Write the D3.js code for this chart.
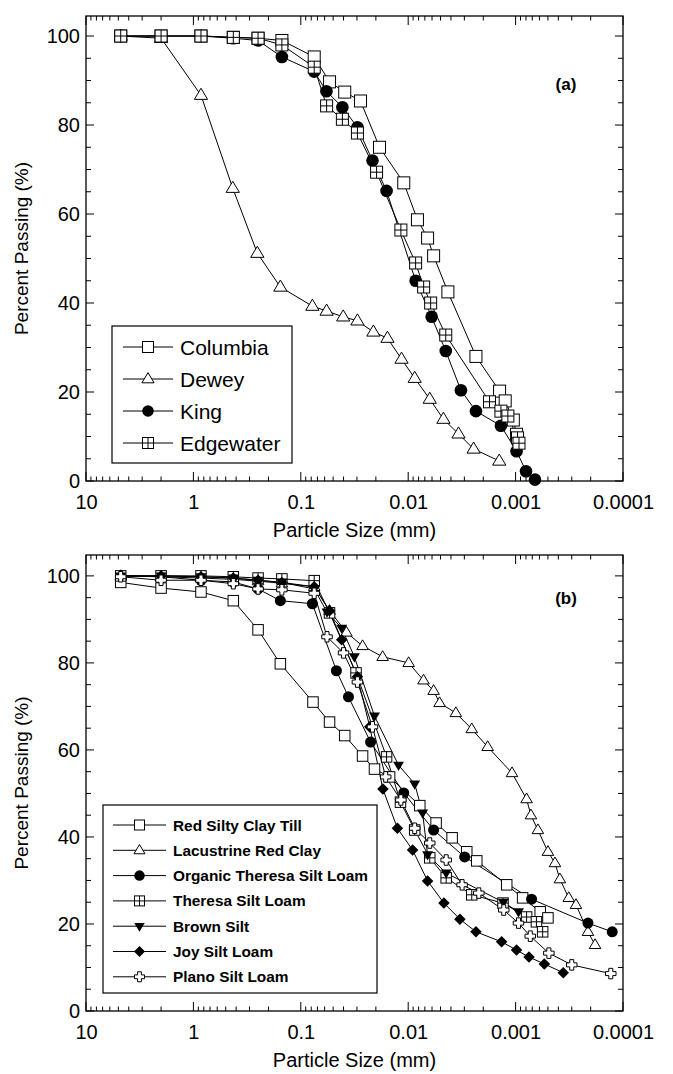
<!DOCTYPE html>
<html><head><meta charset="utf-8">
<script src="https://cdn.jsdelivr.net/npm/d3@7"></script>
<style>html,body{margin:0;padding:0;background:#fff;}svg{display:block;font-family:"Liberation Sans",Arial,sans-serif;}</style>
</head><body>
<svg id="chart" width="673" height="1074"></svg>
<script>
// ---------- Panel (a) data ----------
const columbiaSize = [4.75, 2, 0.85, 0.425, 0.25, 0.15, 0.075, 0.054, 0.039, 0.0278, 0.0185, 0.011, 0.0082, 0.0066, 0.0058, 0.00427, 0.00234, 0.00141, 0.00125, 0.00105, 0.00098];
const columbiaPass = [100, 100, 100, 99.7, 99.5, 99, 95.3, 89.7, 87.4, 85.4, 75, 67, 58.7, 54.6, 50.6, 42.5, 28, 20.2, 18, 13.7, 10.5];
const deweySize = [4.75, 2, 0.85, 0.43, 0.254, 0.155, 0.078, 0.0575, 0.0403, 0.0297, 0.0211, 0.0156, 0.01154, 0.0087, 0.0063, 0.0047, 0.0034, 0.00246, 0.00142];
const deweyPass = [100, 99.5, 86.7, 65.8, 51.2, 43.6, 39.3, 38.2, 36.9, 36, 33.5, 32.1, 27.4, 23.1, 18.4, 13.9, 10.6, 7.2, 4.5];
const kingSize = [4.75, 2, 0.85, 0.425, 0.25, 0.15, 0.075, 0.0577, 0.041, 0.0297, 0.0215, 0.0159, 0.00853, 0.00605, 0.00447, 0.00323, 0.00234, 0.00137, 0.00098, 0.0008, 0.00066];
const kingPass = [100, 100, 100, 99.5, 99, 95.3, 92, 87.6, 84, 79.5, 72, 65.2, 45, 36.9, 29.2, 20.4, 15.7, 12.4, 6.7, 2.2, 0.3];
const edgewaterSize = [4.75, 2, 0.85, 0.425, 0.25, 0.15, 0.075, 0.0575, 0.041, 0.0297, 0.0197, 0.0117, 0.00853, 0.00718, 0.00618, 0.00447, 0.00175, 0.00137, 0.00118, 0.00096, 0.00093];
const edgewaterPass = [100, 100, 100, 99.7, 99.5, 98, 93, 84.3, 81.3, 78.2, 69.4, 56.4, 49, 43.6, 40, 32.8, 17.8, 15.7, 14.6, 9.7, 8.5];
const namesA = ["Columbia", "Dewey", "King", "Edgewater"];

// ---------- Panel (b) data ----------
const redTillSize = [4.75, 2, 0.85, 0.425, 0.25, 0.155, 0.077, 0.054, 0.039, 0.0266, 0.0206, 0.0149, 0.0078, 0.0055, 0.0039, 0.00285, 0.0023, 0.00121, 0.00086, 0.00059, 0.0005];
const redTillPass = [98.5, 97.2, 96.3, 94.3, 87.6, 79.8, 71, 66.4, 63.3, 58.6, 55.6, 53.8, 47.2, 43.2, 39.8, 36.6, 34.5, 29, 26, 22.8, 21.4];
const lacustrineSize = [4.75, 2, 0.85, 0.425, 0.25, 0.15, 0.075, 0.054, 0.0376, 0.0266, 0.0173, 0.0099, 0.0072, 0.0058, 0.0051, 0.0036, 0.00256, 0.00182, 0.00108, 0.00079, 0.00072, 0.00062, 0.0005, 0.00043, 0.000387, 0.00032, 0.000274, 0.000212, 0.000182];
const lacustrinePass = [100, 99.8, 99.5, 99.2, 98.8, 98.3, 97.5, 92, 87, 83.9, 81.4, 80, 76, 73.6, 70.8, 68.5, 64.8, 60.7, 54.7, 48.7, 45, 41.6, 36.6, 34, 30.3, 26, 24.4, 18.2, 15.2];
const organicSize = [4.75, 2, 0.85, 0.425, 0.25, 0.155, 0.078, 0.0466, 0.036, 0.0224, 0.011, 0.0058, 0.00298, 0.00071, 0.000212, 0.000126];
const organicPass = [100, 99.8, 99, 98.6, 97, 94.3, 93.6, 78.2, 72.2, 61.8, 50.1, 41.6, 35.4, 25.7, 20.2, 18.2];
const theresaSize = [4.75, 2, 0.85, 0.425, 0.25, 0.15, 0.075, 0.054, 0.0306, 0.0159, 0.0118, 0.0087, 0.0063, 0.00443, 0.00256, 0.00131, 0.00079, 0.00064, 0.00056];
const theresaPass = [100, 100, 100, 99.8, 99.5, 99.3, 98.9, 91.5, 77.7, 58.4, 48, 41.6, 35.2, 30.6, 26.7, 24.8, 21.6, 20.5, 18.2];
const brownSize = [4.75, 2, 0.85, 0.425, 0.25, 0.15, 0.075, 0.057, 0.0416, 0.0317, 0.0206, 0.0123, 0.0087, 0.00734, 0.0066, 0.00443, 0.0013, 0.00094];
const brownPass = [100, 100, 99.8, 99.5, 99, 98.5, 97, 91.7, 88, 81.4, 67.8, 56.5, 52.2, 45.5, 35.9, 31.7, 25, 22.8];
const joySize = [4.75, 2, 0.85, 0.425, 0.25, 0.15, 0.075, 0.054, 0.0416, 0.0297, 0.0228, 0.0172, 0.0126, 0.0091, 0.0066, 0.00465, 0.0033, 0.00234, 0.00135, 0.00098, 0.00075, 0.00054, 0.00036];
const joyPass = [100, 100, 99.8, 99.5, 99, 98.5, 97.5, 92, 85.3, 76.8, 65.3, 51, 42, 37, 29.9, 24.8, 21.1, 18.2, 15.9, 14, 12.4, 10.8, 8.8];
const planoSize = [4.75, 2, 0.85, 0.425, 0.25, 0.15, 0.075, 0.057, 0.04, 0.0297, 0.0215, 0.0162, 0.0117, 0.0087, 0.0063, 0.00443, 0.00315, 0.0022, 0.00129, 0.00094, 0.00073, 0.00049, 0.0003, 0.00013];
const planoPass = [99.8, 99, 99, 98.2, 97, 96.8, 96, 86, 82.3, 75.6, 65.3, 53.8, 48.5, 42, 38.6, 34.7, 29, 27.1, 23.2, 20.2, 17.2, 13.3, 10.6, 8.6];
const namesB = ["Red Silty Clay Till", "Lacustrine Red Clay", "Organic Theresa Silt Loam", "Theresa Silt Loam", "Brown Silt", "Joy Silt Loam", "Plano Silt Loam"];

// ---------- axis tick labels ----------
const xTickValues = [10, 1, 0.1, 0.01, 0.001, 0.0001];
const xTickLabels = ["10", "1", "0.1", "0.01", "0.001", "0.0001"];
const yTickValues = [0, 20, 40, 60, 80, 100];
const xTitle = "Particle Size (mm)";
const yTitle = "Percent Passing (%)";

const zip = (s, p) => s.map((d, i) => ({size: d, pass: p[i]}));
const seriesA = [
  {name: namesA[0], marker: "square", data: zip(columbiaSize, columbiaPass)},
  {name: namesA[1], marker: "triangle", data: zip(deweySize, deweyPass)},
  {name: namesA[2], marker: "circle", data: zip(kingSize, kingPass)},
  {name: namesA[3], marker: "squareCross", data: zip(edgewaterSize, edgewaterPass)}
];
const seriesB = [
  {name: namesB[0], marker: "square", data: zip(redTillSize, redTillPass)},
  {name: namesB[1], marker: "triangle", data: zip(lacustrineSize, lacustrinePass)},
  {name: namesB[2], marker: "circle", data: zip(organicSize, organicPass)},
  {name: namesB[3], marker: "squareCross", data: zip(theresaSize, theresaPass)},
  {name: namesB[4], marker: "triDown", data: zip(brownSize, brownPass)},
  {name: namesB[5], marker: "diamond", data: zip(joySize, joyPass)},
  {name: namesB[6], marker: "plus", data: zip(planoSize, planoPass)}
];

const svg = d3.select("#chart");

function drawMarker(g, type, s) {
  const h = s / 2;
  if (type === "square") {
    g.append("rect").attr("x", -h).attr("y", -h).attr("width", s).attr("height", s)
      .attr("fill", "#fff").attr("stroke", "#000").attr("stroke-width", 1);
  } else if (type === "squareCross") {
    g.append("rect").attr("x", -h).attr("y", -h).attr("width", s).attr("height", s)
      .attr("fill", "#fff").attr("stroke", "#000").attr("stroke-width", 1);
    g.append("path").attr("d", `M${-h},0H${h}M0,${-h}V${h}`).attr("stroke", "#000").attr("stroke-width", 1);
  } else if (type === "triangle") {
    const r = s * 0.58;
    g.append("path").attr("d", `M0,${-r}L${r*0.95},${r*0.6}L${-r*0.95},${r*0.6}Z`)
      .attr("fill", "#fff").attr("stroke", "#000").attr("stroke-width", 1);
  } else if (type === "circle") {
    g.append("circle").attr("r", h * 1.05).attr("fill", "#000");
  } else if (type === "triDown") {
    const r = s * 0.55;
    g.append("path").attr("d", `M0,${r}L${r*0.95},${-r*0.6}L${-r*0.95},${-r*0.6}Z`).attr("fill", "#000");
  } else if (type === "diamond") {
    const r = h * 1.1;
    g.append("path").attr("d", `M0,${-r}L${r},0L0,${r}L${-r},0Z`).attr("fill", "#000");
  } else if (type === "plus") {
    const a = h, b = h * 0.38;
    g.append("path").attr("d", `M${-b},${-a}H${b}V${-b}H${a}V${b}H${b}V${a}H${-b}V${b}H${-a}V${-b}H${-b}Z`)
      .attr("fill", "#fff").attr("stroke", "#000").attr("stroke-width", 1);
  }
}

function panel(cfg) {
  const x = d3.scaleLog().domain([10, 0.0001]).range([cfg.left, cfg.right]);
  const y = d3.scaleLinear().domain([0, cfg.ymax]).range([cfg.bottom, cfg.top]);
  const g = svg.append("g");

  g.append("rect").attr("x", cfg.left).attr("y", cfg.top)
    .attr("width", cfg.right - cfg.left).attr("height", cfg.bottom - cfg.top)
    .attr("fill", "none").attr("stroke", "#000").attr("stroke-width", 1.3);

  const allX = x.ticks();
  const tickLen = d => (xTickValues.some(v => Math.abs(Math.log10(v) - Math.log10(d)) < 1e-6) ? 9 : 4.5);
  g.append("g").selectAll("line").data(allX).join("line")
    .attr("x1", d => x(d)).attr("x2", d => x(d))
    .attr("y1", cfg.bottom).attr("y2", d => cfg.bottom - tickLen(d))
    .attr("stroke", "#000").attr("stroke-width", 1);
  g.append("g").selectAll("line").data(allX).join("line")
    .attr("x1", d => x(d)).attr("x2", d => x(d))
    .attr("y1", cfg.top).attr("y2", d => cfg.top + tickLen(d))
    .attr("stroke", "#000").attr("stroke-width", 1);
  const xLab = g.append("g").attr("transform", `translate(0,${cfg.bottom})`)
    .call(d3.axisBottom(x).tickValues(xTickValues).tickSize(0).tickPadding(14)
      .tickFormat((d, i) => xTickLabels[i]));
  xLab.select(".domain").remove();
  xLab.selectAll("text").attr("font-size", 20).attr("font-family", "Liberation Sans, Arial, sans-serif").attr("fill", "#000");

  const yMinor = d3.range(0, 101, 5);
  g.append("g").selectAll("line").data(yMinor).join("line")
    .attr("x1", cfg.left).attr("x2", d => cfg.left + (d % 20 === 0 ? 8 : 5))
    .attr("y1", d => y(d)).attr("y2", d => y(d)).attr("stroke", "#000");
  g.append("g").selectAll("line").data(yMinor).join("line")
    .attr("x1", cfg.right).attr("x2", d => cfg.right - (d % 20 === 0 ? 8 : 5))
    .attr("y1", d => y(d)).attr("y2", d => y(d)).attr("stroke", "#000");
  const yLab = g.append("g").attr("transform", `translate(${cfg.left},0)`)
    .call(d3.axisLeft(y).tickValues(yTickValues).tickSize(0).tickPadding(6));
  yLab.select(".domain").remove();
  yLab.selectAll("text").attr("font-size", 20).attr("font-family", "Liberation Sans, Arial, sans-serif").attr("fill", "#000");

  g.append("text").attr("x", (cfg.left + cfg.right) / 2).attr("y", cfg.xTitleY)
    .attr("text-anchor", "middle").attr("font-size", 20).text(xTitle);
  g.append("text").attr("transform", `translate(${cfg.yTitleX},${(cfg.top + cfg.bottom) / 2}) rotate(-90)`)
    .attr("text-anchor", "middle").attr("font-size", 19).text(yTitle);
  g.append("text").attr("x", cfg.tagX).attr("y", cfg.tagY).attr("text-anchor", "middle")
    .attr("font-size", 17).attr("font-weight", "bold").text(cfg.tag);

  const line = d3.line().x(d => x(d.size)).y(d => y(d.pass));
  cfg.series.forEach(s => {
    g.append("path").datum(s.data).attr("d", line).attr("fill", "none").attr("stroke", "#000").attr("stroke-width", 1);
  });
  cfg.series.forEach(s => {
    s.data.forEach(d => {
      const mg = g.append("g").attr("transform", `translate(${x(d.size)},${y(d.pass)})`);
      drawMarker(mg, s.marker, cfg.msize);
    });
  });

  const L = cfg.legend;
  const lg = g.append("g");
  lg.append("rect").attr("x", L.x).attr("y", L.y).attr("width", L.w).attr("height", L.h)
    .attr("fill", "#fff").attr("stroke", "#000").attr("stroke-width", 1.2);
  cfg.series.forEach((s, i) => {
    const cy = L.y + L.row0 + i * L.dy;
    lg.append("line").attr("x1", L.x + L.lx1).attr("x2", L.x + L.lx2).attr("y1", cy).attr("y2", cy)
      .attr("stroke", "#000").attr("stroke-width", 1);
    const mg = lg.append("g").attr("transform", `translate(${L.x + (L.lx1 + L.lx2) / 2},${cy})`);
    drawMarker(mg, s.marker, L.msize);
    lg.append("text").attr("x", L.x + L.tx).attr("y", cy).attr("dy", "0.36em")
      .attr("font-size", L.fs).attr("font-weight", L.fw).text(s.name);
  });
}

panel({
  left: 86, right: 623, top: 16, bottom: 481, ymax: 104.5, series: seriesA, msize: 12,
  xTitleY: 537, yTitleX: 28, tag: "(a)", tagX: 566, tagY: 90,
  legend: {x: 112, y: 326, w: 180, h: 137, row0: 21, dy: 32, lx1: 11, lx2: 61, tx: 68, msize: 11, fs: 21, fw: "normal"}
});
panel({
  left: 86, right: 623, top: 555, bottom: 1011, ymax: 104.8, series: seriesB, msize: 10.5,
  xTitleY: 1067, yTitleX: 28, tag: "(b)", tagX: 566, tagY: 604,
  legend: {x: 103, y: 805, w: 274, h: 188, row0: 20, dy: 25.3, lx1: 10, lx2: 63, tx: 70, msize: 10, fs: 15.4, fw: "bold"}
});
</script>
</body></html>
